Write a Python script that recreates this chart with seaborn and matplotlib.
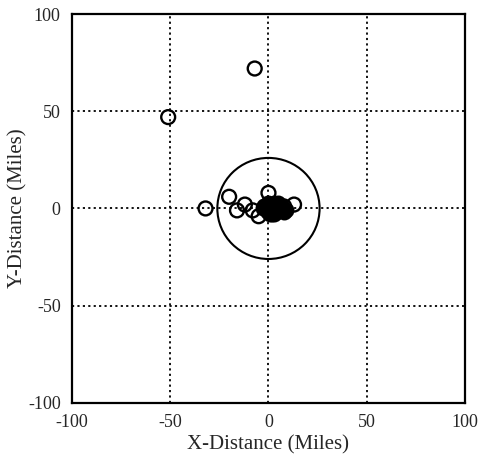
import matplotlib
matplotlib.use("Agg")
import matplotlib.pyplot as plt
import seaborn as sns
import pandas as pd
from matplotlib.patches import Circle

# scattered impact points (open circles)
x_open = [-7, -51, -32, -20, -16, -12, -8, -5, 0, 13, 8, 6, -2, 2]
y_open = [72, 47, 0, 6, -1, 2, -1, -4, 8, 2, 1, -1, 1, -3]

# dense cluster near the origin (appears solid)
x_core = [0, 1, 2, 3, 4, 5, 6, -1, -2, 0, 2, 4, 6, 1, 3, 5, 7, -3, 0, 3, 8, 9, 7]
y_core = [0, 1, 2, 3, 2, 1, 0, -1, 1, 3, -2, -2, -1, -3, 0, 3, -1, 0, -2, -3, -2, -1, 1]

circle_radius = 26
ticks = [-100, -50, 0, 50, 100]

sns.set_style("white")
plt.rcParams['font.family'] = ['Liberation Serif', 'DejaVu Serif']

fig = plt.figure(figsize=(4.82, 4.70), dpi=100)
ax = fig.add_axes([0.149, 0.143, 0.816, 0.827])

df_open = pd.DataFrame({'x': x_open, 'y': y_open})
df_core = pd.DataFrame({'x': x_core, 'y': y_core})

sns.scatterplot(data=df_core, x='x', y='y', ax=ax, marker='o', s=100,
                facecolor='black', edgecolor='black', linewidth=1.5, zorder=3)
sns.scatterplot(data=df_open, x='x', y='y', ax=ax, marker='o', s=100,
                facecolor='none', edgecolor='black', linewidth=1.7, zorder=4)

ax.add_patch(Circle((0, 0), circle_radius, fill=False, edgecolor='black', linewidth=1.5, zorder=2))

ax.set_xlim(-100, 100)
ax.set_ylim(-100, 100)
ax.set_xticks(ticks)
ax.set_yticks(ticks)
ax.set_xticklabels([str(t) for t in ticks], fontsize=13)
ax.set_yticklabels([str(t) for t in ticks], fontsize=13)
ax.tick_params(length=0, pad=8)
ax.grid(True, color='black', linestyle=(0, (1.2, 1.8)), linewidth=1.3)
for s in ax.spines.values():
    s.set_color('black')
    s.set_linewidth(1.6)

ax.set_xlabel('X-Distance (Miles)', fontsize=15, labelpad=3)
ax.set_ylabel('Y-Distance (Miles)', fontsize=15)
ax.yaxis.set_label_coords(-0.112, 0.5)

plt.savefig('out.png', dpi=100)
